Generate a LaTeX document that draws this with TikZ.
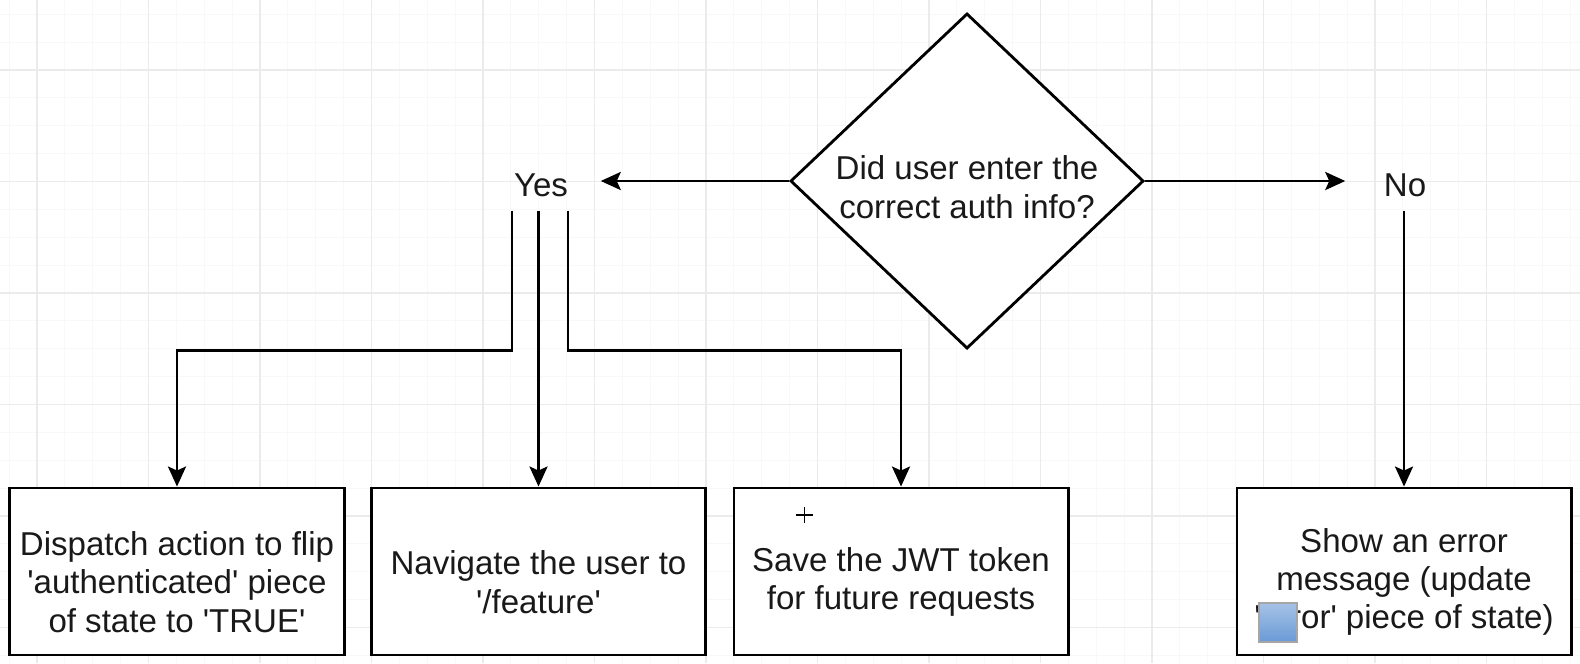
\documentclass[tikz,border=0pt]{standalone}
\usepackage{fontspec}
\setmainfont{Liberation Sans}
\usetikzlibrary{shapes.geometric,arrows.meta}

\definecolor{gridmajor}{HTML}{EBEBEB}
\definecolor{gridminor}{HTML}{F8F8F8}
\definecolor{iconblue}{HTML}{6A9AD6}

\newcommand{\boxtop}{\rule{0pt}{0.45cm}}
\newcommand{\qtop}{\rule{0pt}{0.36cm}}

\begin{document}
\begin{tikzpicture}[x=0.01cm,y=-0.01cm,
  txt/.style={font=\fontsize{9.4}{10.9}\selectfont, text=black!90},
  box/.style={txt, draw, line width=0.8pt, rectangle, minimum width=3.34cm, minimum height=1.67cm, inner sep=0pt, align=center},
  arr/.style={line width=0.8pt, -{Stealth[length=0.2cm,width=0.18cm,inset=0.04cm]}},
  lbl/.style={txt, minimum width=1.18cm, minimum height=0.5cm, inner sep=0pt}]

  \def\xmax{1580}
  \def\ymax{663}

  \useasboundingbox (0,0) rectangle (\xmax,\ymax);
  \fill[white] (0,0) rectangle (\xmax,\ymax);

  % grid
  \foreach \k in {-1,...,56}
    \draw[gridminor, line width=0.3pt] (37+27.875*\k,0) -- (37+27.875*\k,\ymax);
  \foreach \k in {-3,...,21}
    \draw[gridminor, line width=0.3pt] (0,70+27.875*\k) -- (\xmax,70+27.875*\k);
  \foreach \k in {0,...,14}
    \draw[gridmajor, line width=0.5pt] (37+111.5*\k,0) -- (37+111.5*\k,\ymax);
  \foreach \k in {0,...,5}
    \draw[gridmajor, line width=0.5pt] (0,70+111.5*\k) -- (\xmax,70+111.5*\k);

  % decision
  \node[txt, diamond, draw, line width=0.8pt, fill=white, aspect=1.05, minimum width=3.53cm,
        minimum height=3.35cm, inner sep=-0.05cm, align=center] (q) at (967,181)
        {\qtop Did user enter the\\correct auth info?};

  \node[lbl] (yes) at (541,185) {Yes};
  \node[lbl] (no) at (1405,185) {No};

  % actions
  \node[box, fill=white] (b1) at (177,571.5) {\boxtop Dispatch action to flip\\\textquotesingle authenticated\textquotesingle\ piece\\of state to \textquotesingle TRUE\textquotesingle};
  \node[box, fill=white] (b2) at (538.5,571.5) {\boxtop Navigate the user to\\\textquotesingle/feature\textquotesingle};
  \node[box, fill=white] (b3) at (901,571.5) {\boxtop Save the JWT token\\for future requests};
  \node[box, fill=white] (b4) at (1404,571.5) {\boxtop Show an error\\message (update\\\textquotesingle error\textquotesingle\ piece of state)};

  % arrows
  \draw[arr] (q.west) -- (q.west -| yes.east);
  \draw[arr] (q.east) -- (q.east -| no.west);
  \draw[arr] ([xshift=-0.29cm]yes.south) -- ++(0,140) -| (b1.north);
  \draw[arr] (yes.south -| b2.north) -- (b2.north);
  \draw[arr] ([xshift=0.27cm]yes.south) -- ++(0,140) -| (b3.north);
  \draw[arr] (no.south -| b4.north) -- (b4.north);

  % cursor and overlay icon
  \draw[line width=0.4pt] (796,515) -- (813,515) (804.5,507) -- (804.5,523);
  \draw[gray!70, line width=0.6pt, top color=iconblue!60, bottom color=iconblue] (1259,603) rectangle (1297,642);

\end{tikzpicture}
\end{document}
